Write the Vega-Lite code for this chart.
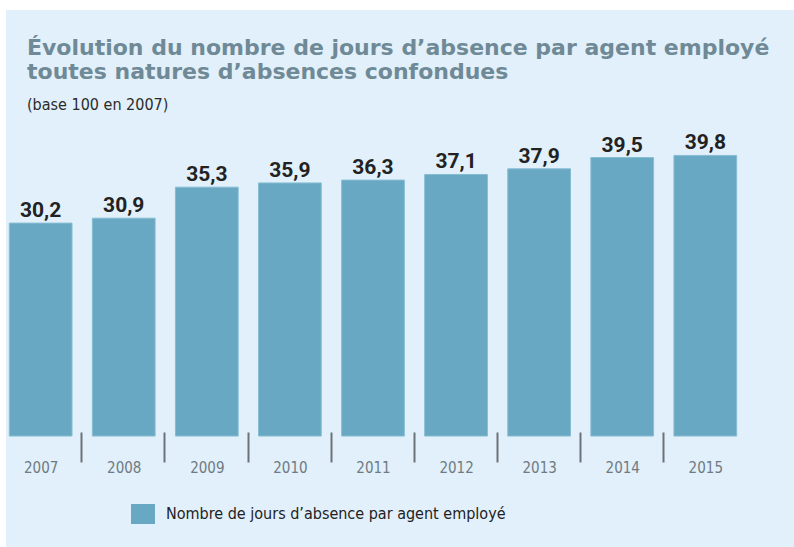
{
  "$schema": "https://vega.github.io/schema/vega-lite/v6.json",
  "autosize": {"type": "none"},
  "width": 788,
  "height": 537,
  "padding": {"left": 6, "top": 10, "right": 0, "bottom": 0},
  "background": "#ffffff",
  "config": {
    "view": {"fill": "#e1f0fa", "stroke": null}
  },
  "title": {
    "text": ["Évolution du nombre de jours d’absence par agent employé", "toutes natures d’absences confondues"],
    "subtitle": "(base 100 en 2007)",
    "anchor": "start",
    "frame": "group",
    "orient": "top",
    "offset": -104,
    "dx": 21,
    "font": "DejaVu Sans",
    "fontWeight": "bold",
    "fontSize": 22,
    "lineHeight": 24,
    "color": "#6f8a96",
    "subtitleFont": "DejaVu Sans Condensed, Liberation Sans",
    "subtitleFontSize": 16,
    "subtitleColor": "#2b2b2b",
    "subtitlePadding": 13
  },
  "data": {
    "values": [
      {"annee": "2007", "valeur": 30.2, "label": "30,2", "serie": "Nombre de jours d’absence par agent employé"},
      {"annee": "2008", "valeur": 30.9, "label": "30,9", "serie": "Nombre de jours d’absence par agent employé"},
      {"annee": "2009", "valeur": 35.3, "label": "35,3", "serie": "Nombre de jours d’absence par agent employé"},
      {"annee": "2010", "valeur": 35.9, "label": "35,9", "serie": "Nombre de jours d’absence par agent employé"},
      {"annee": "2011", "valeur": 36.3, "label": "36,3", "serie": "Nombre de jours d’absence par agent employé"},
      {"annee": "2012", "valeur": 37.1, "label": "37,1", "serie": "Nombre de jours d’absence par agent employé"},
      {"annee": "2013", "valeur": 37.9, "label": "37,9", "serie": "Nombre de jours d’absence par agent employé"},
      {"annee": "2014", "valeur": 39.5, "label": "39,5", "serie": "Nombre de jours d’absence par agent employé"},
      {"annee": "2015", "valeur": 39.8, "label": "39,8", "serie": "Nombre de jours d’absence par agent employé"}
    ]
  },
  "encoding": {
    "x": {
      "field": "annee",
      "type": "nominal",
      "sort": null,
      "scale": {"paddingInner": 0.245, "paddingOuter": 0.365, "align": 0.0545},
      "axis": {
        "title": null,
        "domain": false,
        "grid": false,
        "bandPosition": 0,
        "tickOffset": -11,
        "tickSize": 30,
        "tickWidth": 2,
        "tickColor": "#6b7378",
        "offset": -115,
        "labelAngle": 0,
        "labelPadding": -2,
        "labelOffset": 11,
        "labelFont": "DejaVu Sans Condensed, Liberation Sans",
        "labelFontSize": 15,
        "labelColor": "#6f7a82"
      }
    }
  },
  "layer": [
    {
      "mark": {"type": "bar", "stroke": "#86bdd3", "strokeWidth": 1},
      "encoding": {
        "y": {
          "field": "valeur",
          "type": "quantitative",
          "scale": {"domain": [-15.74, 60.43], "nice": false, "zero": false},
          "axis": null
        },
        "color": {
          "field": "serie",
          "type": "nominal",
          "scale": {"range": ["#69a8c3"]},
          "legend": {
            "title": null,
            "orient": "none",
            "legendX": 127,
            "legendY": 494,
            "padding": 0,
            "symbolType": "M-1.2,-1H1.2V1H-1.2Z",
            "symbolSize": 400,
            "symbolStrokeWidth": 0,
            "labelFont": "DejaVu Sans Condensed, Liberation Sans",
            "labelFontSize": 16,
            "labelColor": "#222222",
            "labelLimit": 600,
            "labelOffset": 13
          }
        }
      }
    },
    {
      "mark": {
        "type": "text",
        "font": "Roboto",
        "fontWeight": "bold",
        "fontSize": 21,
        "color": "#222222",
        "baseline": "alphabetic",
        "dy": -6
      },
      "encoding": {
        "y": {"field": "valeur", "type": "quantitative"},
        "text": {"field": "label"}
      }
    }
  ]
}
